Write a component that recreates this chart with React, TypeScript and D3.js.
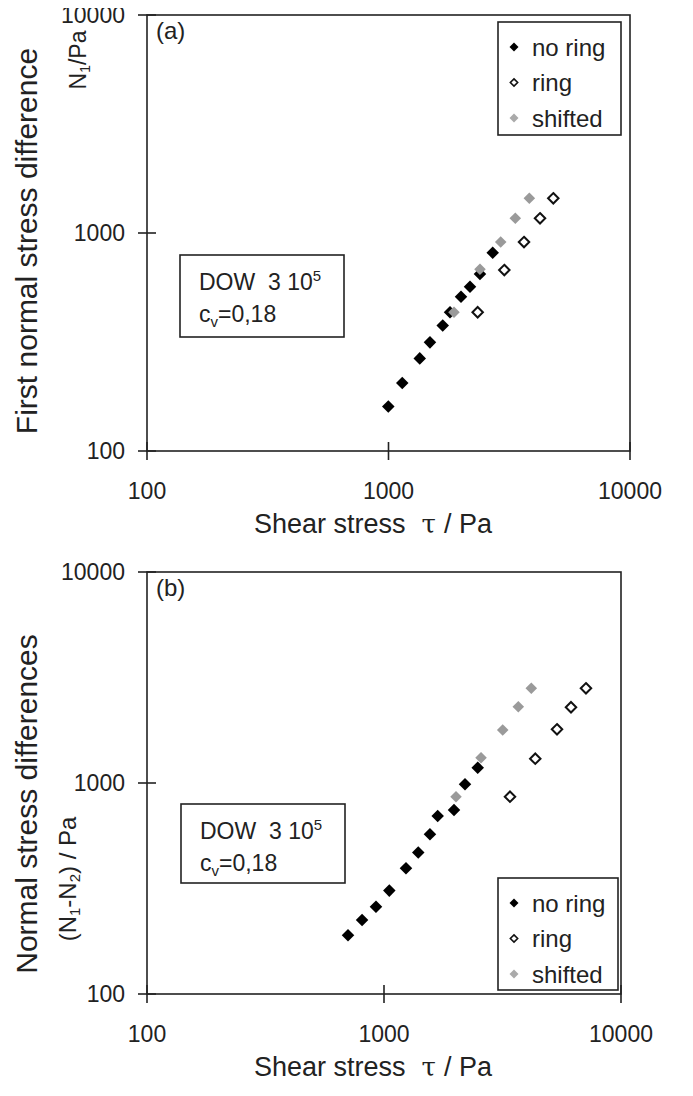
import React from 'react';
import * as d3 from 'd3';

// panel (a): first normal stress difference N1 vs shear stress
const aNoRingTau = [998, 1140, 1347, 1485, 1677, 1798, 1996, 2175, 2392, 2701];
const aNoRingN = [160, 205, 266, 315, 376, 433, 510, 567, 648, 812];
const aRingTau = [2340, 3017, 3640, 4240, 4813];
const aRingN = [433, 676, 909, 1168, 1443];
const aShiftTau = [1867, 2392, 2915, 3350, 3830];
const aShiftN = [433, 682, 909, 1168, 1443];

// panel (b): N1-N2 vs shear stress
const bNoRingTau = [705, 808, 925, 1053, 1238, 1395, 1563, 1685, 1974, 2197, 2486];
const bNoRingN = [190, 224, 259, 309, 394, 468, 571, 698, 745, 986, 1182];
const bRingTau = [3401, 4348, 5370, 6152, 7115];
const bRingN = [861, 1304, 1797, 2285, 2811];
const bShiftTau = [2013, 2567, 3169, 3687, 4183];
const bShiftN = [861, 1318, 1783, 2299, 2811];

const ticks = [100, 1000, 10000];
const legendLabels = ['no ring', 'ring', 'shifted'];

const FONT = '"Liberation Sans", Arial, sans-serif';
const INK = '#222';
const GRAY = '#9a9a9a';

const bigDiamond = d3.symbol(d3.symbolDiamond2, 100)();
const shiftDiamond = d3.symbol(d3.symbolDiamond2, 85)();
const ringDiamond = d3.symbol(d3.symbolDiamond2, 70)();
const smallDiamond = d3.symbol(d3.symbolDiamond2, 52)();
const smallRing = d3.symbol(d3.symbolDiamond2, 34)();

const zip = (xs, ys) => xs.map((x, i) => [x, ys[i]]);

function Panel({ box, tag, noRing, ring, shift, legendBox, infoBox, yTitle, ySub }) {
  const x = d3.scaleLog().domain([100, 10000]).range([box.left, box.right]);
  const y = d3.scaleLog().domain([100, 10000]).range([box.bottom, box.top]);

  return (
    <g>
      {/* frame */}
      <rect x={box.left} y={box.top} width={box.right - box.left} height={box.bottom - box.top}
        fill="none" stroke={INK} strokeWidth={1.6} />
      {/* ticks crossing the axes */}
      {ticks.map(t => (
        <g key={'x' + t}>
          <line x1={x(t)} x2={x(t)} y1={box.bottom - 9} y2={box.bottom + 9} stroke={INK} strokeWidth={1.6} />
          <text x={x(t)} y={box.bottom + 48} textAnchor="middle" fontSize={23} fontFamily={FONT} fill={INK}>{t}</text>
        </g>
      ))}
      {ticks.map(t => (
        <g key={'y' + t}>
          <line x1={box.left - 9} x2={box.left + 9} y1={y(t)} y2={y(t)} stroke={INK} strokeWidth={1.6} />
          <text x={box.left - 22} y={y(t)} dy="0.36em" textAnchor="end" fontSize={23} fontFamily={FONT} fill={INK}>{t}</text>
        </g>
      ))}
      <text x={box.left + 9} y={box.top + 24} fontSize={24} fontFamily={FONT} fill={INK}>{tag}</text>

      {/* info box */}
      <rect x={infoBox.x} y={infoBox.y} width={infoBox.w} height={infoBox.h} fill="white" stroke={INK} strokeWidth={1.6} />
      <text x={infoBox.x + 19} y={infoBox.y + 35} fontSize={23} fontFamily={FONT} fill={INK} xmlSpace="preserve" style={{ whiteSpace: 'pre' }}>
        {'DOW  3 10'}<tspan dy={-9} fontSize={15}>5</tspan>
      </text>
      <text x={infoBox.x + 19} y={infoBox.y + 67} fontSize={23} fontFamily={FONT} fill={INK}>
        c<tspan dy={5} fontSize={15}>v</tspan><tspan dy={-5}>=0,18</tspan>
      </text>

      {/* data */}
      {zip(...noRing).map((d, i) => (
        <path key={'n' + i} d={bigDiamond} transform={`translate(${x(d[0])},${y(d[1])})`} fill="#000" />
      ))}
      {zip(...shift).map((d, i) => (
        <path key={'s' + i} d={shiftDiamond} transform={`translate(${x(d[0])},${y(d[1])})`} fill={GRAY} />
      ))}
      {zip(...ring).map((d, i) => (
        <path key={'r' + i} d={ringDiamond} transform={`translate(${x(d[0])},${y(d[1])})`} fill="white" stroke="#111" strokeWidth={2} />
      ))}

      {/* legend */}
      <rect x={legendBox.x} y={legendBox.y} width={legendBox.w} height={legendBox.h} fill="white" stroke={INK} strokeWidth={1.6} />
      {legendLabels.map((lab, i) => {
        const cy = legendBox.y + 25 + i * 35.5;
        const mx = legendBox.x + 16;
        return (
          <g key={lab}>
            {i === 0 && <path d={smallDiamond} transform={`translate(${mx},${cy})`} fill="#000" />}
            {i === 1 && <path d={smallRing} transform={`translate(${mx},${cy})`} fill="white" stroke="#111" strokeWidth={1.6} />}
            {i === 2 && <path d={smallDiamond} transform={`translate(${mx},${cy})`} fill="#aaa" />}
            <text x={legendBox.x + 34} y={cy} dy="0.36em" fontSize={24} fontFamily={FONT} fill={INK}>{lab}</text>
          </g>
        );
      })}

      {/* axis titles */}
      <text x={254} y={box.bottom + 82} fontSize={27} fontFamily={FONT} fill={INK}>
        Shear stress<tspan dx={16} fontFamily='"DejaVu Serif", serif' fontSize={26}>τ</tspan><tspan dx={8}>/ Pa</tspan>
      </text>
      {yTitle}
      {ySub}
    </g>
  );
}

export default function App() {
  return (
    <svg width={693} height={1096} style={{ display: 'block', margin: '-8px' }}>
      <rect width={693} height={1096} fill="white" />
      <Panel
        box={{ left: 147, right: 630, top: 15, bottom: 451 }}
        tag="(a)"
        noRing={[aNoRingTau, aNoRingN]}
        ring={[aRingTau, aRingN]}
        shift={[aShiftTau, aShiftN]}
        legendBox={{ x: 498, y: 22, w: 123, h: 113 }}
        infoBox={{ x: 180, y: 255, w: 164, h: 82 }}
        yTitle={
          <text transform="translate(37,241) rotate(-90)" textAnchor="middle" fontSize={30} fontFamily={FONT} fill={INK}>
            First normal stress difference
          </text>
        }
        ySub={
          <text transform="translate(86,60) rotate(-90)" textAnchor="middle" fontSize={23} fontFamily={FONT} fill={INK}>
            N<tspan dy={4} fontSize={14}>1</tspan><tspan dy={-4}>/Pa</tspan>
          </text>
        }
      />
      <Panel
        box={{ left: 147, right: 621, top: 572, bottom: 994 }}
        tag="(b)"
        noRing={[bNoRingTau, bNoRingN]}
        ring={[bRingTau, bRingN]}
        shift={[bShiftTau, bShiftN]}
        legendBox={{ x: 498, y: 878, w: 120, h: 112 }}
        infoBox={{ x: 181, y: 804, w: 164, h: 79 }}
        yTitle={
          <text transform="translate(37,804) rotate(-90)" textAnchor="middle" fontSize={30} fontFamily={FONT} fill={INK}>
            Normal stress differences
          </text>
        }
        ySub={
          <text transform="translate(76,879) rotate(-90)" textAnchor="middle" fontSize={24} fontFamily={FONT} fill={INK}>
            (N<tspan dy={4} fontSize={15}>1</tspan><tspan dy={-4}>-N</tspan><tspan dy={4} fontSize={15}>2</tspan><tspan dy={-4}>) / Pa</tspan>
          </text>
        }
      />
    </svg>
  );
}
